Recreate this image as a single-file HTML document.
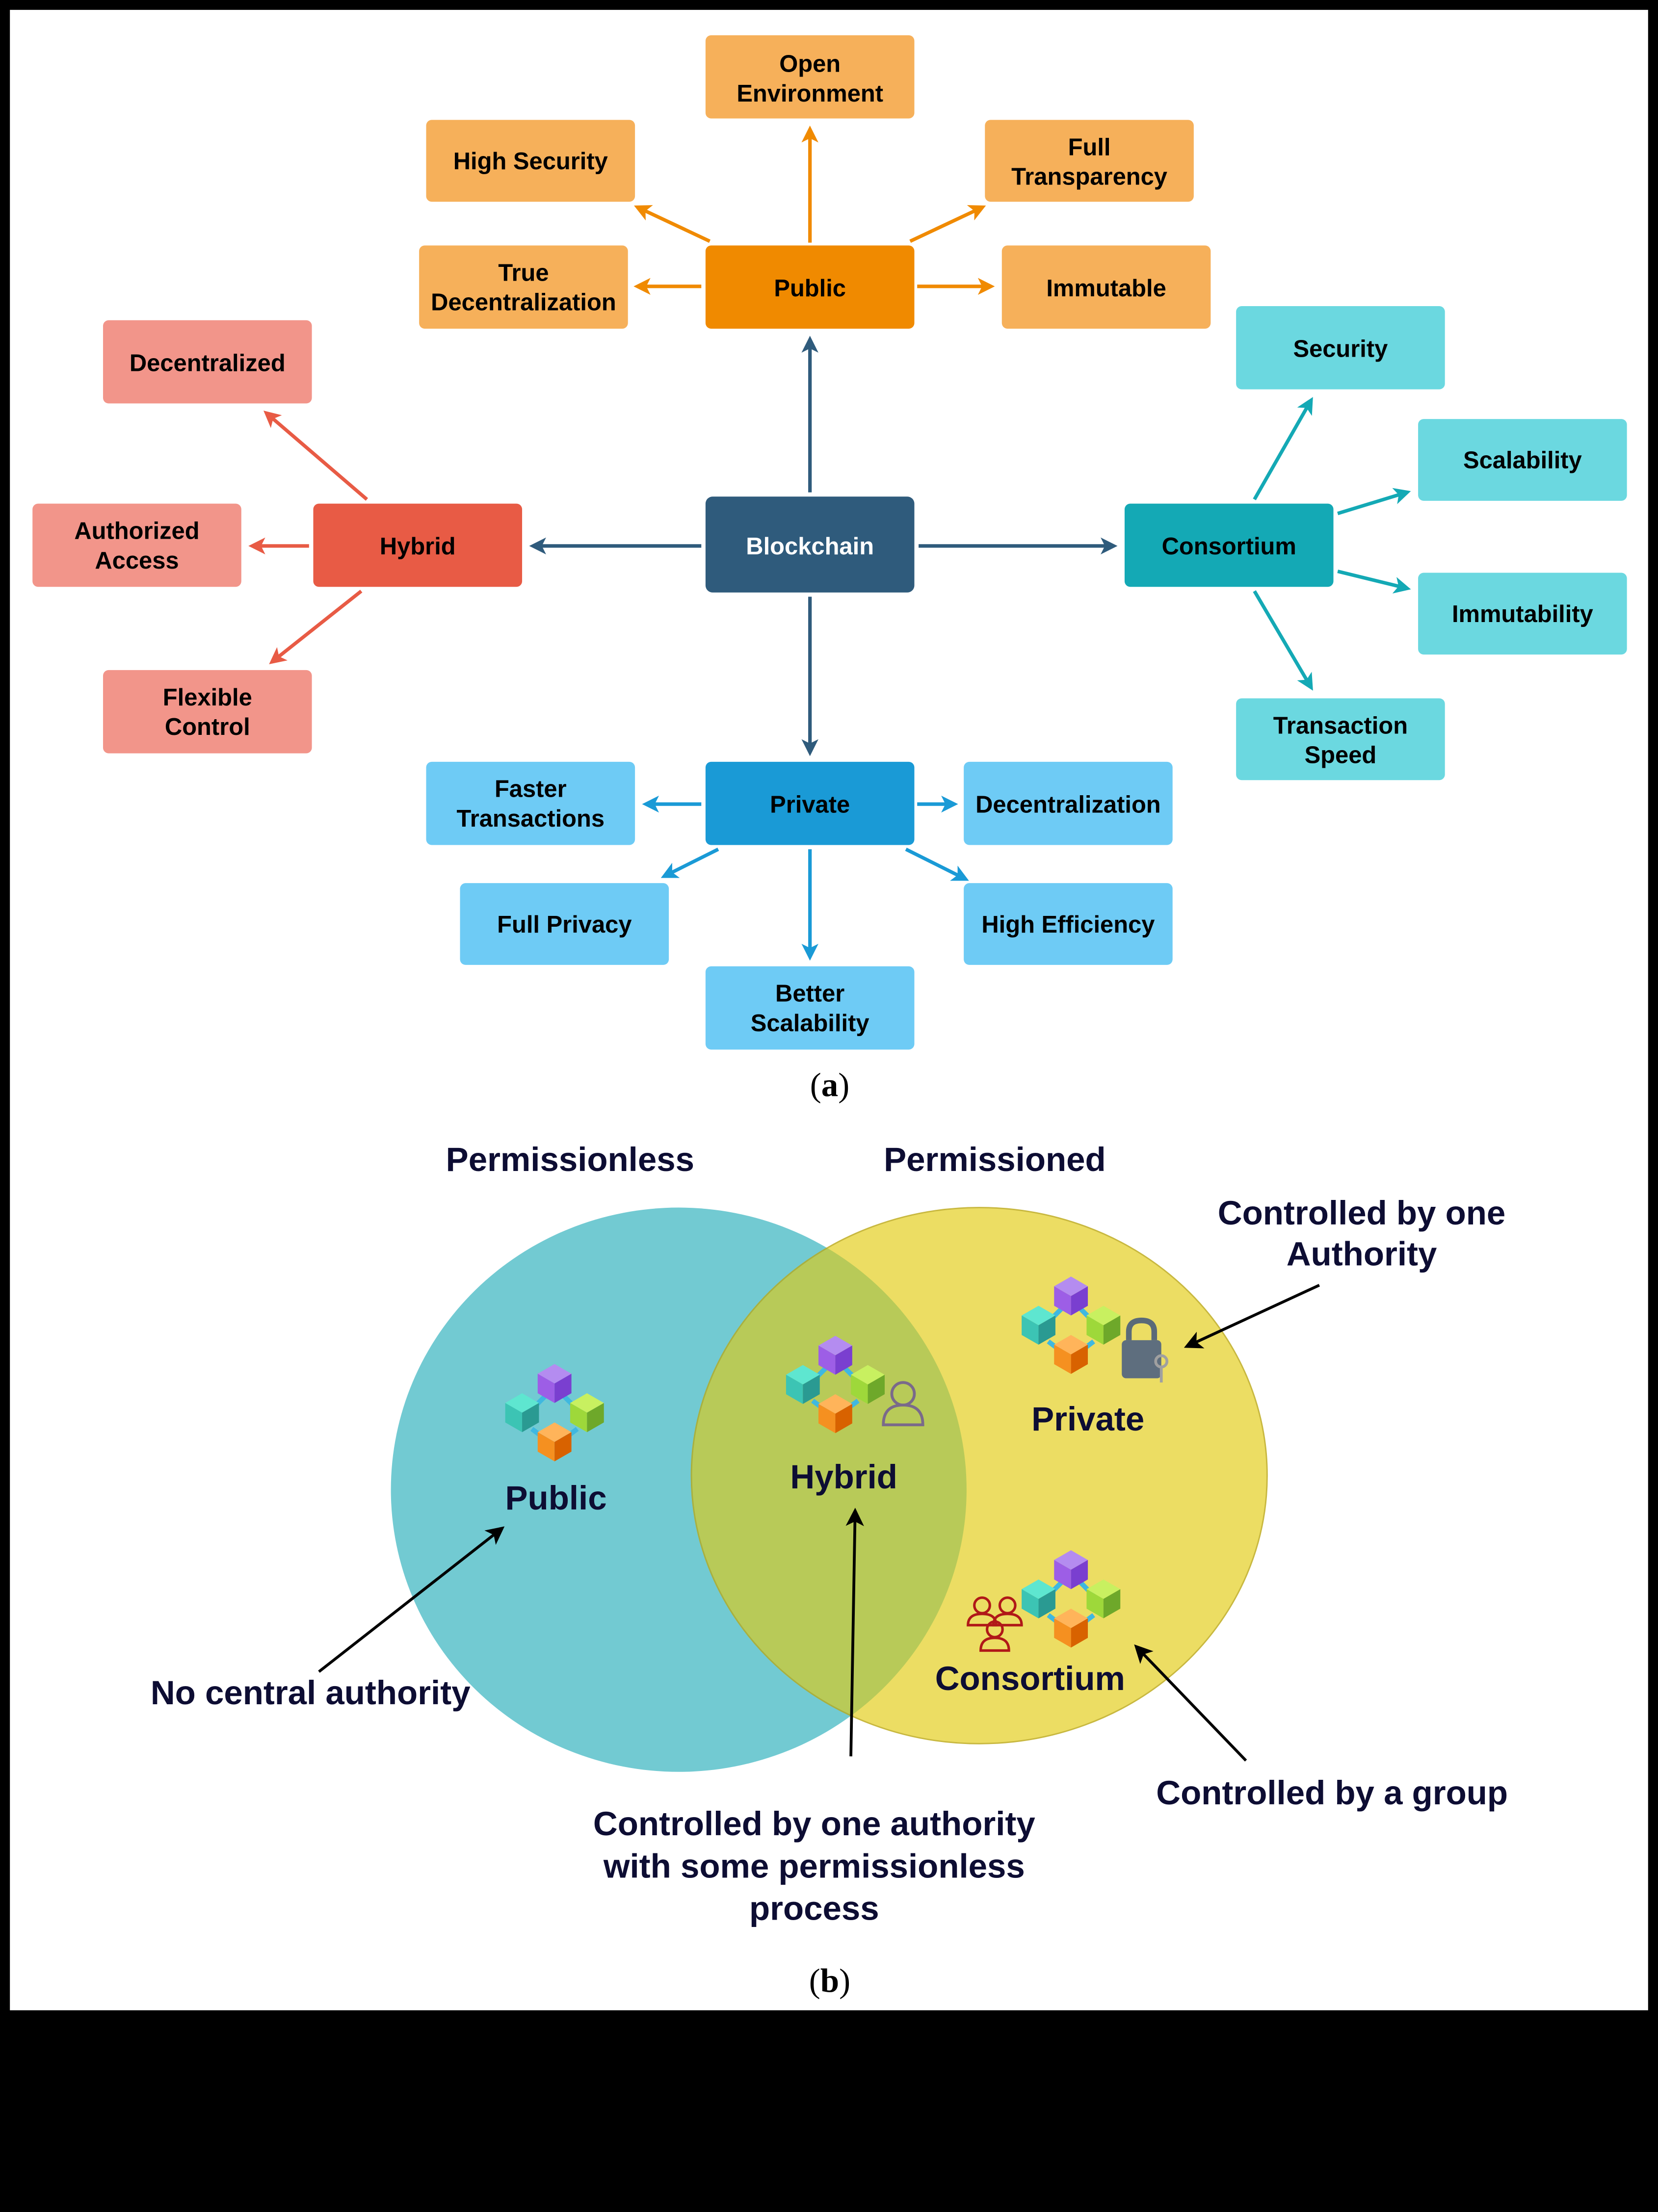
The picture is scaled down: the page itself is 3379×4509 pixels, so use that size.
<!DOCTYPE html>
<html><head><meta charset="utf-8"><style>
html,body{margin:0;padding:0;background:#000;}
svg{display:block;}
.t{font-family:"Liberation Sans",Arial,sans-serif;font-weight:bold;font-size:17px;text-anchor:middle;fill:#000;}
.v{font-family:"Liberation Sans",Arial,sans-serif;font-weight:bold;font-size:24px;text-anchor:middle;fill:#0d0d33;}
</style></head><body>
<svg width="3379" height="4509" viewBox="0 0 1175 1568" xmlns="http://www.w3.org/2000/svg">
<defs>
<marker id="mo" viewBox="0 0 12 12" refX="9" refY="6" markerWidth="12" markerHeight="12" orient="auto" markerUnits="userSpaceOnUse"><path d="M0,0 L12,6 L0,12 L3,6 Z" fill="#f08a00"/></marker>
<marker id="mb" viewBox="0 0 12 12" refX="9" refY="6" markerWidth="12" markerHeight="12" orient="auto" markerUnits="userSpaceOnUse"><path d="M0,0 L12,6 L0,12 L3,6 Z" fill="#2f5b7c"/></marker>
<marker id="mr" viewBox="0 0 12 12" refX="9" refY="6" markerWidth="12" markerHeight="12" orient="auto" markerUnits="userSpaceOnUse"><path d="M0,0 L12,6 L0,12 L3,6 Z" fill="#e85b45"/></marker>
<marker id="mt" viewBox="0 0 12 12" refX="9" refY="6" markerWidth="12" markerHeight="12" orient="auto" markerUnits="userSpaceOnUse"><path d="M0,0 L12,6 L0,12 L3,6 Z" fill="#14a9b5"/></marker>
<marker id="ml" viewBox="0 0 12 12" refX="9" refY="6" markerWidth="12" markerHeight="12" orient="auto" markerUnits="userSpaceOnUse"><path d="M0,0 L12,6 L0,12 L3,6 Z" fill="#1a9ad6"/></marker>
<marker id="mk" viewBox="0 0 12 12" refX="9" refY="6" markerWidth="13" markerHeight="13" orient="auto" markerUnits="userSpaceOnUse"><path d="M0,0 L12,6 L0,12 L3,6 Z" fill="#000"/></marker>
<g id="cube1"><polygon points="0,-12 10.4,-6 0,0 -10.4,-6" fill="#b48cf0"/><polygon points="-10.4,-6 0,0 0,12 -10.4,6" fill="#9d5ee6"/><polygon points="0,0 10.4,-6 10.4,6 0,12" fill="#7a3fd0"/></g>
<g id="cube2"><polygon points="0,-12 10.4,-6 0,0 -10.4,-6" fill="#5ee6d0"/><polygon points="-10.4,-6 0,0 0,12 -10.4,6" fill="#3cc4b4"/><polygon points="0,0 10.4,-6 10.4,6 0,12" fill="#2a9a92"/></g>
<g id="cube3"><polygon points="0,-12 10.4,-6 0,0 -10.4,-6" fill="#c8f060"/><polygon points="-10.4,-6 0,0 0,12 -10.4,6" fill="#9ed83a"/><polygon points="0,0 10.4,-6 10.4,6 0,12" fill="#6ea82a"/></g>
<g id="cube4"><polygon points="0,-12 10.4,-6 0,0 -10.4,-6" fill="#ffb45a"/><polygon points="-10.4,-6 0,0 0,12 -10.4,6" fill="#f59020"/><polygon points="0,0 10.4,-6 10.4,6 0,12" fill="#d86200"/></g>
<g id="chain">
<g transform="scale(1.15)">
<line x1="-6" y1="-14" x2="-14" y2="-6" stroke="#3fb8e0" stroke-width="3"/><line x1="6" y1="-14" x2="14" y2="-6" stroke="#3fb8e0" stroke-width="3"/>
<line x1="-14" y1="6" x2="-6" y2="12" stroke="#3fb8e0" stroke-width="3"/><line x1="14" y1="6" x2="6" y2="12" stroke="#3fb8e0" stroke-width="3"/>
<use href="#cube1" x="0" y="-22"/><use href="#cube2" x="-20" y="-4"/><use href="#cube3" x="20" y="-4"/><use href="#cube4" x="0" y="14"/>
</g>
</g>
<clipPath id="cc"><ellipse cx="481" cy="1056" rx="204" ry="200"/></clipPath>
</defs>
<rect x="0" y="0" width="1175" height="1568" fill="#000"/>
<rect x="7" y="7" width="1161" height="1418" fill="#fff"/>

<g stroke-width="2.5" fill="none">
<line x1="574" y1="172" x2="574" y2="92" stroke="#f08a00" marker-end="url(#mo)"/>
<line x1="503" y1="171" x2="452" y2="147" stroke="#f08a00" marker-end="url(#mo)"/>
<line x1="645" y1="171" x2="696" y2="147" stroke="#f08a00" marker-end="url(#mo)"/>
<line x1="497" y1="203" x2="452" y2="203" stroke="#f08a00" marker-end="url(#mo)"/>
<line x1="650" y1="203" x2="702" y2="203" stroke="#f08a00" marker-end="url(#mo)"/>
<line x1="574" y1="349" x2="574" y2="241" stroke="#2f5b7c" marker-end="url(#mb)"/>
<line x1="497" y1="387" x2="378" y2="387" stroke="#2f5b7c" marker-end="url(#mb)"/>
<line x1="651" y1="387" x2="789" y2="387" stroke="#2f5b7c" marker-end="url(#mb)"/>
<line x1="574" y1="423" x2="574" y2="533" stroke="#2f5b7c" marker-end="url(#mb)"/>
<line x1="260" y1="354" x2="189" y2="293" stroke="#e85b45" marker-end="url(#mr)"/>
<line x1="219" y1="387" x2="179" y2="387" stroke="#e85b45" marker-end="url(#mr)"/>
<line x1="256" y1="419" x2="193" y2="469" stroke="#e85b45" marker-end="url(#mr)"/>
<line x1="889" y1="354" x2="929" y2="284" stroke="#14a9b5" marker-end="url(#mt)"/>
<line x1="948" y1="364" x2="997" y2="349" stroke="#14a9b5" marker-end="url(#mt)"/>
<line x1="948" y1="405" x2="997" y2="417" stroke="#14a9b5" marker-end="url(#mt)"/>
<line x1="889" y1="419" x2="929" y2="487" stroke="#14a9b5" marker-end="url(#mt)"/>
<line x1="497" y1="570" x2="458" y2="570" stroke="#1a9ad6" marker-end="url(#ml)"/>
<line x1="650" y1="570" x2="676" y2="570" stroke="#1a9ad6" marker-end="url(#ml)"/>
<line x1="509" y1="602" x2="471" y2="621" stroke="#1a9ad6" marker-end="url(#ml)"/>
<line x1="642" y1="602" x2="684" y2="623" stroke="#1a9ad6" marker-end="url(#ml)"/>
<line x1="574" y1="602" x2="574" y2="678" stroke="#1a9ad6" marker-end="url(#ml)"/>
</g>

<g>
<rect x="500" y="174" width="148" height="59" rx="4" fill="#f08a00"/>
<rect x="500" y="25" width="148" height="59" rx="4" fill="#f6b05a"/>
<rect x="302" y="85" width="148" height="58" rx="4" fill="#f6b05a"/>
<rect x="698" y="85" width="148" height="58" rx="4" fill="#f6b05a"/>
<rect x="297" y="174" width="148" height="59" rx="4" fill="#f6b05a"/>
<rect x="710" y="174" width="148" height="59" rx="4" fill="#f6b05a"/>
<rect x="500" y="352" width="148" height="68" rx="5" fill="#2f5b7c"/>
<rect x="222" y="357" width="148" height="59" rx="4" fill="#e85b45"/>
<rect x="73" y="227" width="148" height="59" rx="4" fill="#f2958a"/>
<rect x="23" y="357" width="148" height="59" rx="4" fill="#f2958a"/>
<rect x="73" y="475" width="148" height="59" rx="4" fill="#f2958a"/>
<rect x="797" y="357" width="148" height="59" rx="4" fill="#14a9b5"/>
<rect x="876" y="217" width="148" height="59" rx="4" fill="#6bd8e0"/>
<rect x="1005" y="297" width="148" height="58" rx="4" fill="#6bd8e0"/>
<rect x="1005" y="406" width="148" height="58" rx="4" fill="#6bd8e0"/>
<rect x="876" y="495" width="148" height="58" rx="4" fill="#6bd8e0"/>
<rect x="500" y="540" width="148" height="59" rx="4" fill="#1a9ad6"/>
<rect x="302" y="540" width="148" height="59" rx="4" fill="#6ecbf5"/>
<rect x="683" y="540" width="148" height="59" rx="4" fill="#6ecbf5"/>
<rect x="326" y="626" width="148" height="58" rx="4" fill="#6ecbf5"/>
<rect x="683" y="626" width="148" height="58" rx="4" fill="#6ecbf5"/>
<rect x="500" y="685" width="148" height="59" rx="4" fill="#6ecbf5"/>
</g>
<g>
<text x="574" y="210" class="t">Public</text>
<text x="574" y="51" class="t">Open</text><text x="574" y="72" class="t">Environment</text>
<text x="376" y="120" class="t">High Security</text>
<text x="772" y="110" class="t">Full</text><text x="772" y="131" class="t">Transparency</text>
<text x="371" y="199" class="t">True</text><text x="371" y="220" class="t">Decentralization</text>
<text x="784" y="210" class="t">Immutable</text>
<text x="574" y="393" class="t" style="fill:#fff">Blockchain</text>
<text x="296" y="393" class="t">Hybrid</text>
<text x="147" y="263" class="t">Decentralized</text>
<text x="97" y="382" class="t">Authorized</text><text x="97" y="403" class="t">Access</text>
<text x="147" y="500" class="t">Flexible</text><text x="147" y="521" class="t">Control</text>
<text x="871" y="393" class="t">Consortium</text>
<text x="950" y="253" class="t">Security</text>
<text x="1079" y="332" class="t">Scalability</text>
<text x="1079" y="441" class="t">Immutability</text>
<text x="950" y="520" class="t">Transaction</text><text x="950" y="541" class="t">Speed</text>
<text x="574" y="576" class="t">Private</text>
<text x="376" y="565" class="t">Faster</text><text x="376" y="586" class="t">Transactions</text>
<text x="757" y="576" class="t">Decentralization</text>
<text x="400" y="661" class="t">Full Privacy</text>
<text x="757" y="661" class="t">High Efficiency</text>
<text x="574" y="710" class="t">Better</text><text x="574" y="731" class="t">Scalability</text>
</g>
<text x="588" y="777" style="font-family:'Liberation Serif',serif;font-size:24px;text-anchor:middle">(<tspan font-weight="bold">a</tspan>)</text>

<ellipse cx="481" cy="1056" rx="204" ry="200" fill="#72cad2"/>
<ellipse cx="694" cy="1046" rx="204" ry="190" fill="#ecdd63" stroke="#c8b840" stroke-width="1"/>
<ellipse cx="694" cy="1046" rx="204" ry="190" fill="#b8ca58" clip-path="url(#cc)" stroke="#a8b040" stroke-width="1"/>

<use href="#chain" x="393" y="1006"/>
<use href="#chain" x="592" y="986"/>
<use href="#chain" x="759" y="944"/>
<use href="#chain" x="759" y="1138"/>
<g fill="none" stroke="#7a6a8a" stroke-width="2"><circle cx="640" cy="988" r="8"/><path d="M626,1010 Q626,996 640,996 Q654,996 654,1010 Z"/></g>
<g><path d="M800,950 V944 Q800,936 809,936 Q818,936 818,944 V950" fill="none" stroke="#5a6a78" stroke-width="4"/><rect x="795" y="950" width="28" height="27" rx="3" fill="#5e6e7e"/><circle cx="823" cy="965" r="4" fill="none" stroke="#a0a0a0" stroke-width="2"/><line x1="823" y1="969" x2="823" y2="980" stroke="#a0a0a0" stroke-width="2"/></g>
<g fill="none" stroke="#b01818" stroke-width="1.8">
<circle cx="696" cy="1138" r="5.5"/><path d="M686,1152 Q686,1144 696,1144 Q706,1144 706,1152 Z"/>
<circle cx="714" cy="1138" r="5.5"/><path d="M704,1152 Q704,1144 714,1144 Q724,1144 724,1152 Z"/>
<circle cx="705" cy="1155" r="5.5"/><path d="M695,1170 Q695,1161 705,1161 Q715,1161 715,1170 Z"/>
</g>

<text x="404" y="830" class="v">Permissionless</text>
<text x="705" y="830" class="v">Permissioned</text>
<text x="965" y="868" class="v">Controlled by one</text><text x="965" y="897" class="v">Authority</text>
<text x="771" y="1014" class="v">Private</text>
<text x="394" y="1070" class="v">Public</text>
<text x="598" y="1055" class="v">Hybrid</text>
<text x="730" y="1198" class="v">Consortium</text>
<text x="220" y="1208" class="v">No central authority</text>
<text x="944" y="1279" class="v">Controlled by a group</text>
<text x="577" y="1301" class="v">Controlled by one authority</text>
<text x="577" y="1331" class="v">with some permissionless</text>
<text x="577" y="1361" class="v">process</text>

<g stroke="#000" stroke-width="2" fill="none">
<line x1="935" y1="911" x2="842" y2="954" marker-end="url(#mk)"/>
<line x1="226" y1="1185" x2="355" y2="1084" marker-end="url(#mk)"/>
<line x1="603" y1="1245" x2="606" y2="1072" marker-end="url(#mk)"/>
<line x1="883" y1="1248" x2="806" y2="1168" marker-end="url(#mk)"/>
</g>
<text x="588" y="1412" style="font-family:'Liberation Serif',serif;font-size:24px;text-anchor:middle">(<tspan font-weight="bold">b</tspan>)</text>
</svg>
</body></html>
